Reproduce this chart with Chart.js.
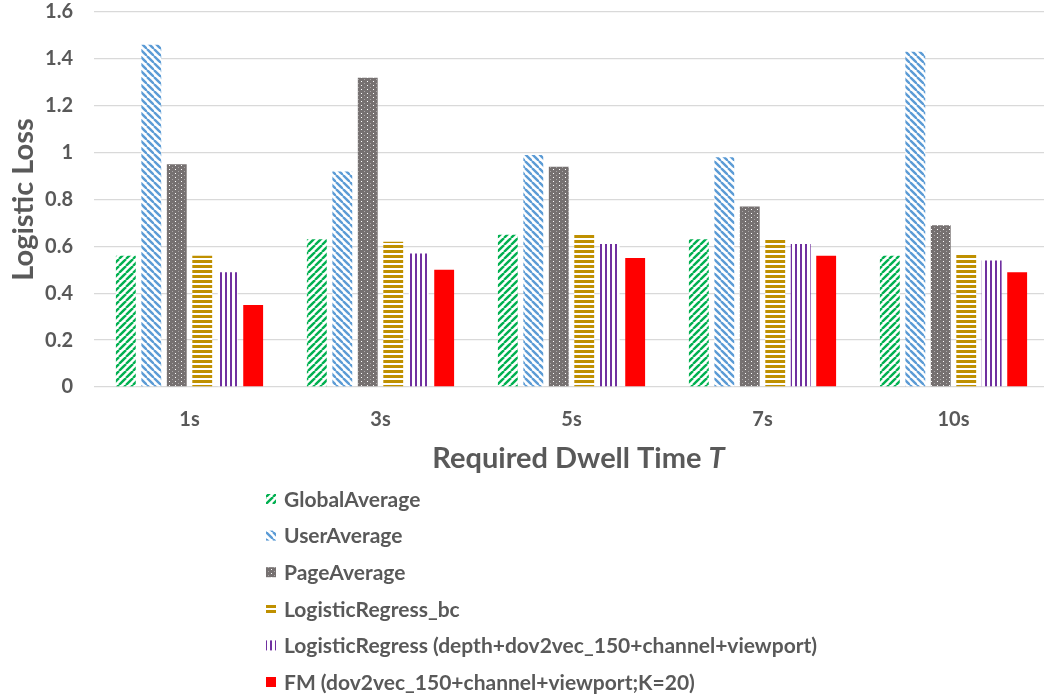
<!DOCTYPE html>
<html>
<head>
<meta charset="utf-8">
<script src="https://cdn.jsdelivr.net/npm/chart.js@4/dist/chart.umd.min.js"></script>
<style>
  html, body { margin: 0; padding: 0; background: #fff; overflow: hidden; }
  #wrap { width: 1044px; height: 698px; overflow: hidden; }
</style>
</head>
<body>
<div id="wrap"><canvas id="c" width="1050" height="698"></canvas></div>
<script>
// Required dwell time thresholds
const categories = ['1s', '3s', '5s', '7s', '10s'];

// Logistic loss per model
const globalAverage      = [0.56, 0.63, 0.65, 0.63, 0.56];
const userAverage        = [1.46, 0.92, 0.99, 0.98, 1.43];
const pageAverage        = [0.95, 1.32, 0.94, 0.77, 0.69];
const logisticRegressBc  = [0.56, 0.62, 0.65, 0.63, 0.57];
const logisticRegressAll = [0.49, 0.57, 0.61, 0.61, 0.54];
const fmModel            = [0.35, 0.50, 0.55, 0.56, 0.49];

const seriesNames = [
  'GlobalAverage',
  'UserAverage',
  'PageAverage',
  'LogisticRegress_bc',
  'LogisticRegress (depth+dov2vec_150+channel+viewport)',
  'FM (dov2vec_150+channel+viewport;K=20)'
];

const yMin = 0, yMax = 1.6, yStep = 0.2;

const TEXT = '#595959';
const FONT = 'Lato, "Open Sans", sans-serif';

const canvas = document.getElementById('c');
const ctx = canvas.getContext('2d');

function tile(w, h, draw) {
  const t = document.createElement('canvas');
  t.width = w; t.height = h;
  const g = t.getContext('2d');
  draw(g, w, h);
  return ctx.createPattern(t, 'repeat');
}

// Fill patterns for each series
const patUp = tile(7, 7, (g, w, h) => {
  g.fillStyle = '#fff'; g.fillRect(0, 0, w, h);
  g.strokeStyle = '#00B050'; g.lineWidth = 2.4;
  for (const o of [-w, 0, w]) {
    g.beginPath(); g.moveTo(o, h); g.lineTo(o + w, 0); g.stroke();
  }
});
const patDown = tile(7, 7, (g, w, h) => {
  g.fillStyle = '#fff'; g.fillRect(0, 0, w, h);
  g.strokeStyle = '#5B9BD5'; g.lineWidth = 2.4;
  for (const o of [-w, 0, w]) {
    g.beginPath(); g.moveTo(o, 0); g.lineTo(o + w, h); g.stroke();
  }
});
const patDots = tile(6, 4, (g, w, h) => {
  g.fillStyle = '#767171'; g.fillRect(0, 0, w, h);
  g.fillStyle = '#ffffff'; g.fillRect(1, 1, 1, 1);
  g.fillStyle = '#a9a6a6'; g.fillRect(4, 3, 1, 1);
});
const patHoriz = tile(5, 5, (g, w, h) => {
  g.fillStyle = '#fff'; g.fillRect(0, 0, w, h);
  g.fillStyle = '#BF9000'; g.fillRect(0, 0, w, 3);
});
const patVert = tile(5, 5, (g, w, h) => {
  g.fillStyle = '#fff'; g.fillRect(0, 0, w, h);
  g.fillStyle = '#7030A0'; g.fillRect(0, 0, 2, h);
});

const fills = [patUp, patDown, patDots, patHoriz, patVert, '#FF0000'];
const values = [globalAverage, userAverage, pageAverage, logisticRegressBc, logisticRegressAll, fmModel];

// Vertical legend below the axis title
const legendBelow = {
  id: 'legendBelow',
  afterDraw(chart) {
    const c = chart.ctx;
    c.save();
    c.font = 'bold 21px ' + FONT;
    c.textBaseline = 'middle';
    const x0 = 266, y0 = 499, dy = 36.6;
    chart.data.datasets.forEach((ds, i) => {
      const y = y0 + i * dy;
      c.fillStyle = ds.backgroundColor;
      c.fillRect(x0, y - 5, 10, 10);
      c.fillStyle = TEXT;
      c.fillText(ds.label, x0 + 18, y + 1);
    });
    c.restore();
  }
};

// X axis title with italic variable
const xTitle = {
  id: 'xTitle',
  afterDraw(chart) {
    const c = chart.ctx;
    const a = chart.chartArea;
    c.save();
    c.fillStyle = TEXT;
    c.textBaseline = 'middle';
    const part1 = 'Required Dwell Time ';
    const part2 = 'T';
    const size = 29;
    c.font = 'bold ' + size + 'px ' + FONT;
    const w1 = c.measureText(part1).width;
    c.font = 'italic bold ' + size + 'px ' + FONT;
    const w2 = c.measureText(part2).width;
    const cx = (a.left + a.right) / 2 + 7;
    const x = cx - (w1 + w2) / 2;
    const y = 459;
    c.font = 'bold ' + size + 'px ' + FONT;
    c.fillText(part1, x, y);
    c.font = 'italic bold ' + size + 'px ' + FONT;
    c.fillText(part2, x + w1, y);
    c.restore();
  }
};

new Chart(ctx, {
  type: 'bar',
  data: {
    labels: categories,
    datasets: values.map((v, i) => ({
      label: seriesNames[i],
      data: v,
      backgroundColor: fills[i],
      borderWidth: 0,
      categoryPercentage: 0.80,
      barPercentage: 0.78
    }))
  },
  options: {
    responsive: false,
    animation: false,
    devicePixelRatio: 1,
    layout: { padding: { top: 12, right: 1, left: 0, bottom: 0 } },
    plugins: {
      legend: { display: false },
      tooltip: { enabled: false }
    },
    scales: {
      x: {
        grid: { display: false, drawTicks: false },
        border: { display: false },
        ticks: { color: TEXT, font: { family: FONT, size: 20, weight: 'bold' }, padding: 21 },
        afterFit(s) { s.height = 698 - 387; }
      },
      y: {
        min: yMin,
        max: yMax,
        grid: { color: '#D9D9D9', lineWidth: 1.3, drawTicks: false },
        border: { display: false },
        ticks: {
          stepSize: yStep,
          color: TEXT,
          padding: 21,
          font: { family: FONT, size: 20, weight: 'bold' },
          callback: v => String(Math.round(v * 10) / 10)
        },
        title: {
          display: true,
          text: 'Logistic Loss',
          color: TEXT,
          font: { family: FONT, size: 29, weight: 'bold' },
          padding: { top: 6, bottom: 0 }
        },
        afterFit(s) { s.width = 94; s.paddingTop = 0; s.paddingBottom = 0; }
      }
    }
  },
  plugins: [legendBelow, xTitle]
});
</script>
</body>
</html>
